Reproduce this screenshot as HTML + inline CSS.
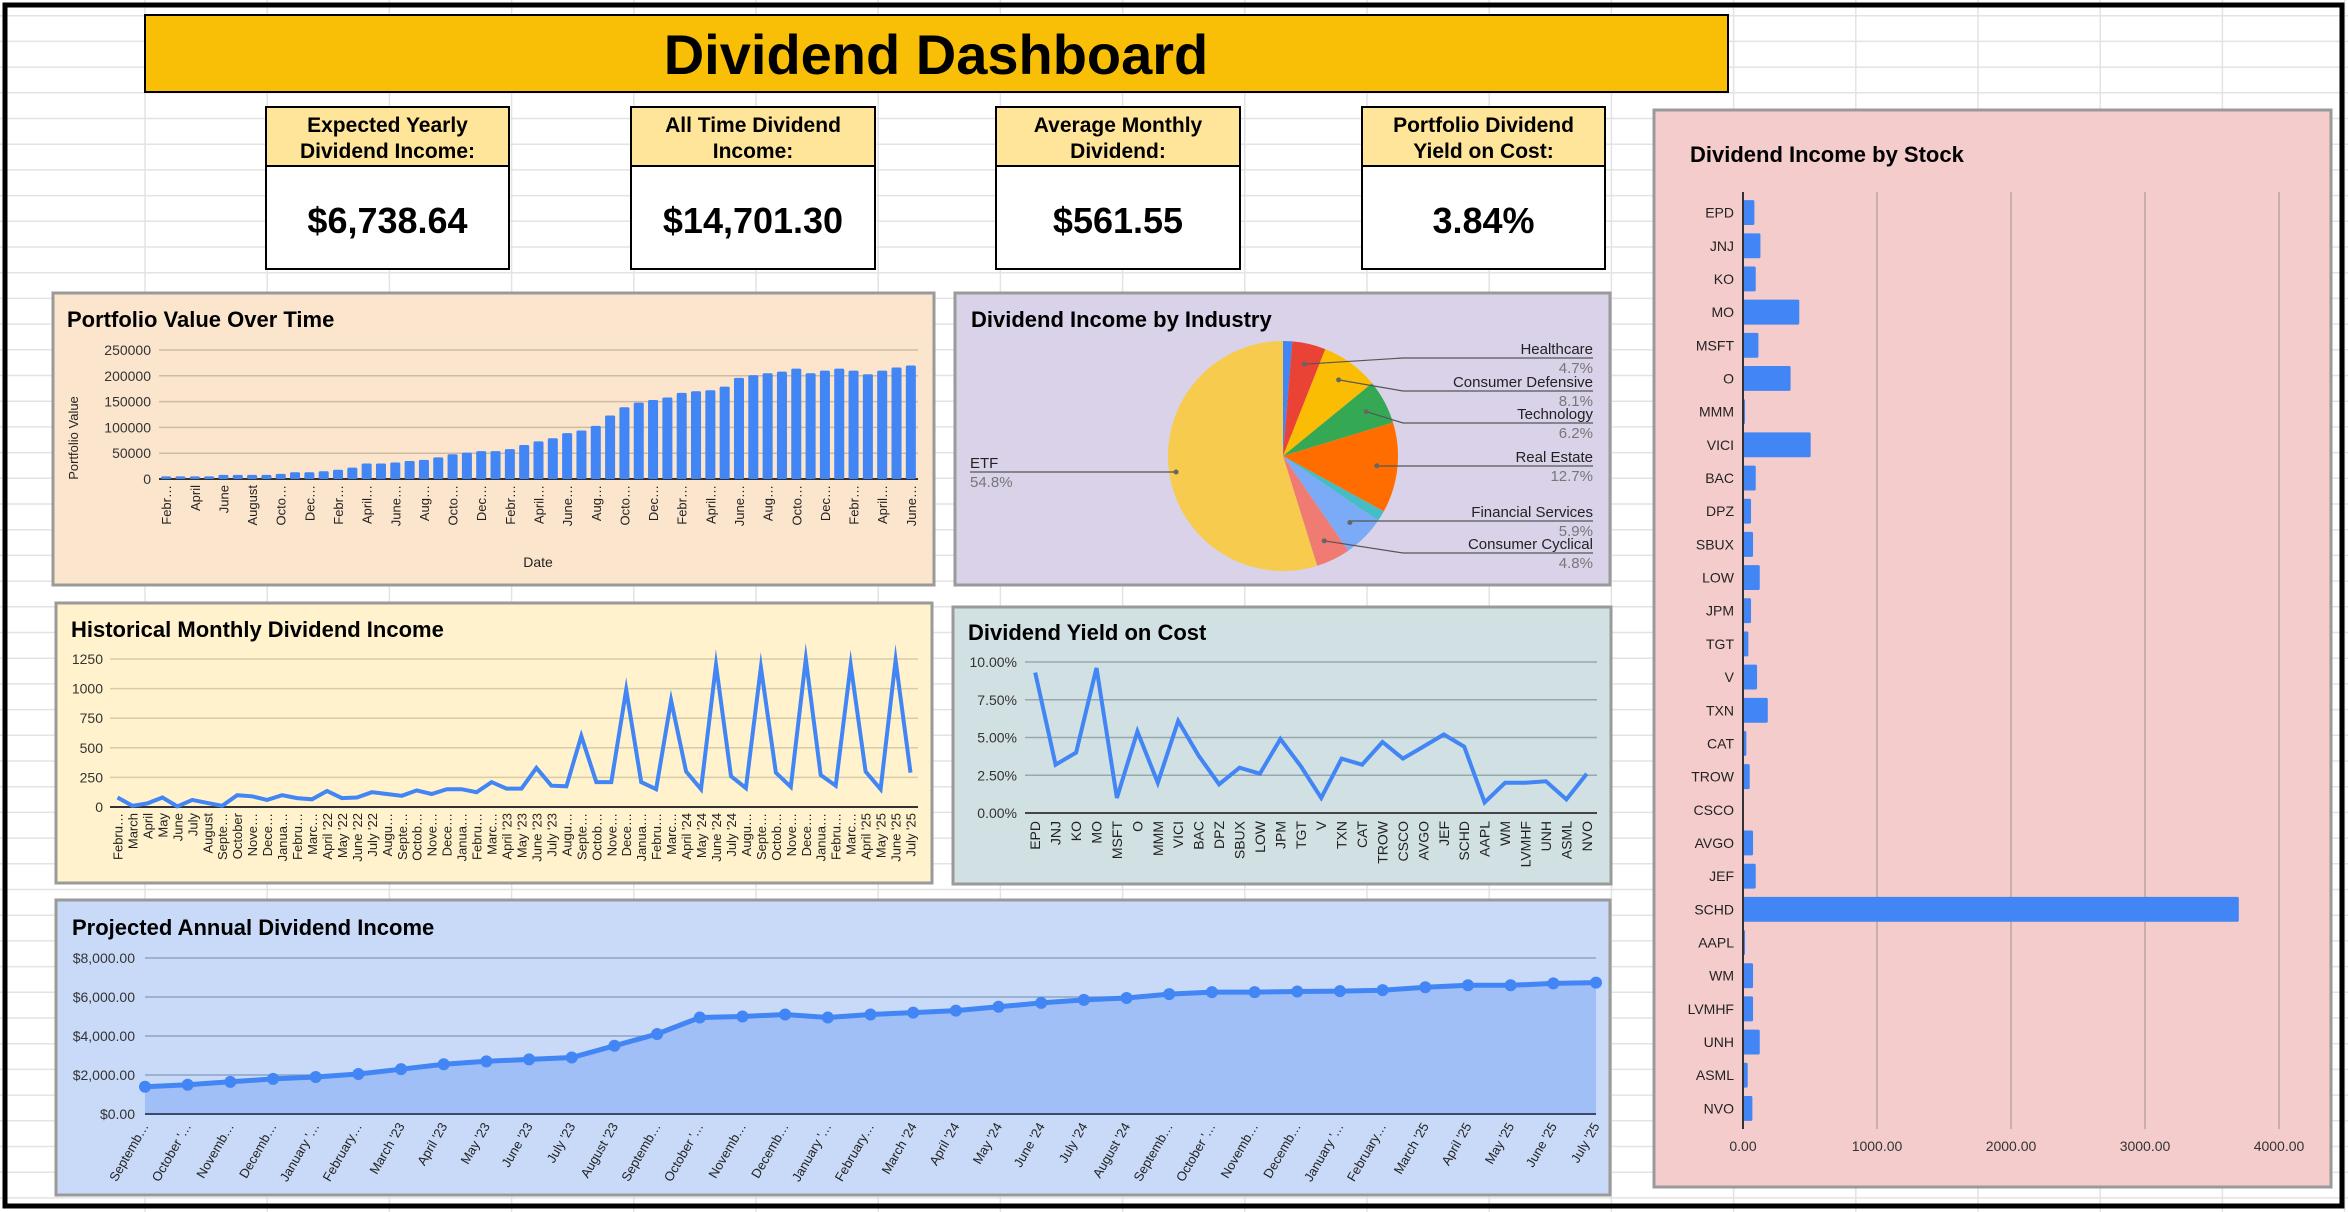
<!DOCTYPE html>
<html><head><meta charset="utf-8"><title>Dividend Dashboard</title>
<style>
html,body{margin:0;padding:0;background:#fff;}
svg{display:block;font-family:"Liberation Sans",Arial,sans-serif;}
.t{font-weight:bold;fill:#000;}
.tick{font-size:14px;fill:#333;}
.xl{font-size:13px;fill:#222;}
</style></head>
<body>
<svg id="root" width="2348" height="1212" viewBox="0 0 2348 1212" xmlns="http://www.w3.org/2000/svg">
<rect x="0" y="0" width="2348" height="1212" fill="#fff"/>
<g id="grid"></g>
<rect x="5" y="5" width="2337" height="1201" fill="none" stroke="#000" stroke-width="5"/>

<rect x="145" y="15" width="1583" height="77" fill="#f9bf06" stroke="#000" stroke-width="2"/>
<text x="936" y="74" text-anchor="middle" class="t" font-size="56">Dividend Dashboard</text>

<g>
<rect x="266" y="107" width="243" height="59" fill="#ffe599" stroke="#000" stroke-width="2"/>
<rect x="266" y="166" width="243" height="103" fill="#fff" stroke="#000" stroke-width="2"/>
<text x="387.5" y="132" text-anchor="middle" class="t" font-size="21">Expected Yearly</text>
<text x="387.5" y="158" text-anchor="middle" class="t" font-size="21">Dividend Income:</text>
<text x="387.5" y="233" text-anchor="middle" class="t" font-size="36">$6,738.64</text>
</g>
<g>
<rect x="631" y="107" width="244" height="59" fill="#ffe599" stroke="#000" stroke-width="2"/>
<rect x="631" y="166" width="244" height="103" fill="#fff" stroke="#000" stroke-width="2"/>
<text x="753" y="132" text-anchor="middle" class="t" font-size="21">All Time Dividend</text>
<text x="753" y="158" text-anchor="middle" class="t" font-size="21">Income:</text>
<text x="753" y="233" text-anchor="middle" class="t" font-size="36">$14,701.30</text>
</g>
<g>
<rect x="996" y="107" width="244" height="59" fill="#ffe599" stroke="#000" stroke-width="2"/>
<rect x="996" y="166" width="244" height="103" fill="#fff" stroke="#000" stroke-width="2"/>
<text x="1118" y="132" text-anchor="middle" class="t" font-size="21">Average Monthly</text>
<text x="1118" y="158" text-anchor="middle" class="t" font-size="21">Dividend:</text>
<text x="1118" y="233" text-anchor="middle" class="t" font-size="36">$561.55</text>
</g>
<g>
<rect x="1362" y="107" width="243" height="59" fill="#ffe599" stroke="#000" stroke-width="2"/>
<rect x="1362" y="166" width="243" height="103" fill="#fff" stroke="#000" stroke-width="2"/>
<text x="1483.5" y="132" text-anchor="middle" class="t" font-size="21">Portfolio Dividend</text>
<text x="1483.5" y="158" text-anchor="middle" class="t" font-size="21">Yield on Cost:</text>
<text x="1483.5" y="233" text-anchor="middle" class="t" font-size="36">3.84%</text>
</g>

<rect x="53" y="293" width="881" height="292" fill="#fce5cd" stroke="#9a9a9a" stroke-width="3"/>
<text x="67" y="327" class="t" font-size="22">Portfolio Value Over Time</text>
<text transform="translate(78,438) rotate(-90)" text-anchor="middle" font-size="13" fill="#222">Portfolio Value</text>
<text x="538" y="567" text-anchor="middle" font-size="14" fill="#222">Date</text>
<g id="pv"></g>

<rect x="56" y="603" width="876" height="280" fill="#fff2cc" stroke="#9a9a9a" stroke-width="3"/>
<text x="71" y="637" class="t" font-size="22">Historical Monthly Dividend Income</text>
<g id="hm"></g>

<rect x="955" y="293" width="655" height="292" fill="#d9d2e9" stroke="#9a9a9a" stroke-width="3"/>
<text x="971" y="327" class="t" font-size="22">Dividend Income by Industry</text>
<g id="pie"></g>

<rect x="953" y="607" width="658" height="277" fill="#d0e0e3" stroke="#9a9a9a" stroke-width="3"/>
<text x="968" y="640" class="t" font-size="22">Dividend Yield on Cost</text>
<g id="yc"></g>

<rect x="56" y="900" width="1554" height="295" fill="#c9daf8" stroke="#9a9a9a" stroke-width="3"/>
<text x="72" y="935" class="t" font-size="22">Projected Annual Dividend Income</text>
<g id="pa"></g>

<rect x="1654" y="110" width="677" height="1077" fill="#f4cccc" stroke="#9a9a9a" stroke-width="3"/>
<text x="1690" y="162" class="t" font-size="22">Dividend Income by Stock</text>
<g id="bs"></g>
</svg>

<script>
// ---------- DATA ----------
const pvValues = [5000,5000,5000,5000,8000,8000,8000,8000,10000,13000,13000,15000,18000,22000,30000,30000,32000,35000,37000,42000,48000,51000,54000,54000,58000,66000,73000,79000,89000,94000,103000,123000,139000,148000,153000,158000,167000,170000,172000,179000,196000,201000,205000,208000,214000,205000,210000,214000,210000,203000,210000,216000,220000];
const pvTickLabels = ["Febr…","April","June","August","Octo…","Dec…","Febr…","April…","June…","Aug…","Octo…","Dec…","Febr…","April…","June…","Aug…","Octo…","Dec…","Febr…","April…","June…","Aug…","Octo…","Dec…","Febr…","April…","June…"];
const pvTicks = [0,50000,100000,150000,200000,250000];

const hmLabels = ["Febru…","March","April","May","June","July","August","Septe…","October","Nove…","Dece…","Janua…","Febru…","Marc…","April '22","May '22","June '22","July '22","Augu…","Septe…","Octob…","Nove…","Dece…","Janua…","Febru…","Marc…","April '23","May '23","June '23","July '23","Augu…","Septe…","Octob…","Nove…","Dece…","Janua…","Febru…","Marc…","April '24","May '24","June '24","July '24","Augu…","Septe…","Octob…","Nove…","Dece…","Janua…","Febru…","Marc…","April '25","May '25","June '25","July '25"];
const hmValues = [80,10,30,80,5,60,35,10,100,90,60,100,75,65,135,75,80,125,110,95,140,110,150,150,125,210,155,155,330,180,175,600,210,210,990,210,150,900,300,150,1200,260,160,1180,290,170,1250,270,180,1200,300,150,1240,290];
const hmTicks = [0,250,500,750,1000,1250];

const pieNames = ["Energy","Healthcare","Consumer Defensive","Technology","Real Estate","Utilities","Financial Services","Consumer Cyclical","ETF"];
const pieValues = [1.3,4.7,8.1,6.2,12.7,1.5,5.9,4.8,54.8];
const pieColors = ["#4285f4","#ea4335","#fbbc04","#34a853","#ff6d01","#46bdc6","#7baaf7","#f07b72","#f7cb4d"];

const ycLabels = ["EPD","JNJ","KO","MO","MSFT","O","MMM","VICI","BAC","DPZ","SBUX","LOW","JPM","TGT","V","TXN","CAT","TROW","CSCO","AVGO","JEF","SCHD","AAPL","WM","LVMHF","UNH","ASML","NVO"];
const ycValues = [9.3,3.2,4.0,9.6,1.0,5.4,2.0,6.1,3.8,1.9,3.0,2.6,4.9,3.1,1.0,3.6,3.2,4.7,3.6,4.4,5.2,4.4,0.7,2.0,2.0,2.1,0.9,2.6];
const ycTicks = [0,2.5,5,7.5,10];

const paLabels = ["Septemb…","October '…","Novemb…","Decemb…","January '…","February…","March '23","April '23","May '23","June '23","July '23","August '23","Septemb…","October '…","Novemb…","Decemb…","January '…","February…","March '24","April '24","May '24","June '24","July '24","August '24","Septemb…","October '…","Novemb…","Decemb…","January '…","February…","March '25","April '25","May '25","June '25","July '25"];
const paValues = [1400,1500,1650,1800,1900,2050,2300,2550,2700,2800,2900,3500,4100,4950,5000,5100,4950,5100,5200,5300,5500,5700,5850,5950,6150,6250,6250,6280,6300,6350,6500,6600,6600,6700,6740];
const paTicks = [0,2000,4000,6000,8000];

const bsLabels = ["EPD","JNJ","KO","MO","MSFT","O","MMM","VICI","BAC","DPZ","SBUX","LOW","JPM","TGT","V","TXN","CAT","TROW","CSCO","AVGO","JEF","SCHD","AAPL","WM","LVMHF","UNH","ASML","NVO"];
const bsValues = [85,130,95,420,115,355,15,505,95,60,75,125,60,40,105,185,25,50,5,75,95,3700,15,75,75,125,35,70];
const bsTicks = [0,1000,2000,3000,4000];

// ---------- HELPERS ----------
const NS='http://www.w3.org/2000/svg';
function mk(parent, tag, attrs, text){
  const e=document.createElementNS(NS,tag);
  for(const k in attrs) e.setAttribute(k,attrs[k]);
  if(text!=null) e.textContent=text;
  parent.appendChild(e); return e;
}
function fmtMoney(v){return '$'+v.toLocaleString('en-US',{minimumFractionDigits:2,maximumFractionDigits:2});}

// ---------- BACKGROUND GRID ----------
(function(){
  const g=document.getElementById('grid');
  for(let x=145;x<2348;x+=122.2){
    const l=mk(g,'line',{x1:x,y1:0,x2:x,y2:1212,stroke:'#e3e3e3','stroke-width':1.5});
    
    
  }
  for(let y=15.7;y<1212;y+=25.7){
    const l=mk(g,'line',{x1:0,y1:y,x2:2348,y2:y,stroke:'#e3e3e3','stroke-width':1.5});
    
    
  }
})();

// ---------- PORTFOLIO VALUE ----------
(function(){
  const g=document.getElementById('pv');
  const L=159,R=918,T=350,B=479,max=250000;
  const band=(R-L)/pvValues.length;
  const xs=i=>L+(i+0.5)*band, ys=v=>B-v/max*(B-T);
  pvTicks.forEach(t=>{
    const gl=mk(g,'line',{x1:L,x2:R,y1:ys(t),y2:ys(t),stroke:t===0?'#333':'#cdbba5','stroke-width':t===0?2:1.5});
    
    
    const tl=mk(g,'text',{x:L-8,y:ys(t)+5,'text-anchor':'end',class:'tick'},String(t));
    
    
  });
  pvValues.forEach((v,i)=>{
    const w=band*0.7;
    const b=mk(g,'rect',{x:xs(i)-w/2,y:ys(v),width:w,height:B-ys(v),fill:'#4285f4',rx:1.5});
    
    
  });
  pvTickLabels.forEach((s,k)=>{
    const x=xs(k*2);
    const tl=mk(g,'text',{transform:`translate(${x+5},${B+6}) rotate(-90)`,'text-anchor':'end',class:'xl'},s);
    
    
  });
})();

// ---------- HISTORICAL MONTHLY ----------
(function(){
  const g=document.getElementById('hm');
  const L=110,R=918,T=659,B=807,max=1250;
  const band=(R-L)/hmValues.length;
  const xs=i=>L+(i+0.5)*band, ys=v=>B-v/max*(B-T);
  hmTicks.forEach(t=>{
    const gl=mk(g,'line',{x1:L,x2:R,y1:ys(t),y2:ys(t),stroke:t===0?'#333':'#d7cca8','stroke-width':t===0?2:1.5});
    
    
    const tl=mk(g,'text',{x:L-7,y:ys(t)+5,'text-anchor':'end',class:'tick'},String(t));
    
    
  });
  const pts=hmValues.map((v,i)=>xs(i).toFixed(1)+','+ys(v).toFixed(1)).join(' ');
  const pl=mk(g,'polyline',{points:pts,fill:'none',stroke:'#4285f4','stroke-width':4,'stroke-linejoin':'miter','stroke-miterlimit':10});
  
  
  hmLabels.forEach((s,i)=>{
    const tl=mk(g,'text',{transform:`translate(${xs(i)+5},${B+6}) rotate(-90)`,'text-anchor':'end',class:'xl'},s);
    
    
  });
})();

// ---------- PIE ----------
(function(){
  const g=document.getElementById('pie');
  const cx=1283,cy=456,r=115;
  const total=pieValues.reduce((a,b)=>a+b,0);
  let a0=-Math.PI/2;
  const mids=[];
  pieValues.forEach((v,i)=>{
    const a1=a0+v/total*Math.PI*2;
    const large=(a1-a0)>Math.PI?1:0;
    const d=`M${cx},${cy} L${cx+r*Math.cos(a0)},${cy+r*Math.sin(a0)} A${r},${r} 0 ${large} 1 ${cx+r*Math.cos(a1)},${cy+r*Math.sin(a1)} Z`;
    const p=mk(g,'path',{d:d,fill:pieColors[i]});
    
    
    mids.push((a0+a1)/2);
    a0=a1;
  });
  const labelY={"Healthcare":358,"Consumer Defensive":391,"Technology":423,"Real Estate":466,"Financial Services":521,"Consumer Cyclical":553};
  pieNames.forEach((n,i)=>{
    const pct=(pieValues[i]/total*100*total/100).toFixed(1)+'%';
    const m=mids[i];
    const dx=cx+r*0.82*Math.cos(m), dy=cy+r*0.82*Math.sin(m);
    if(n==='ETF'){
      const ly=472;
      const ln=mk(g,'polyline',{points:`970,${ly} ${cx-r*0.93},${ly}`,fill:'none',stroke:'#555','stroke-width':1.2});
      
      
      const dt=mk(g,'circle',{cx:cx-r*0.93,cy:ly,r:2.5,fill:'#666'});
      
      
      const t1=mk(g,'text',{x:970,y:ly-4,'font-size':15,fill:'#222'},n);
      
      
      const t2=mk(g,'text',{x:970,y:ly+15,'font-size':15,fill:'#777'},pct);
      
      
      return;
    }
    if(!(n in labelY)) return;
    const ly=labelY[n];
    const elbow=Math.abs(dy-ly)<6?dx:1403;
    const ln=mk(g,'polyline',{points:`1593,${ly} ${elbow},${ly} ${dx},${dy}`,fill:'none',stroke:'#555','stroke-width':1.2});
    
    
    const dt=mk(g,'circle',{cx:dx,cy:dy,r:2.5,fill:'#666'});
    
    
    const t1=mk(g,'text',{x:1593,y:ly-4,'text-anchor':'end','font-size':15,fill:'#222'},n);
    
    
    const t2=mk(g,'text',{x:1593,y:ly+15,'text-anchor':'end','font-size':15,fill:'#777'},pct);
    
    
  });
})();

// ---------- YIELD ON COST ----------
(function(){
  const g=document.getElementById('yc');
  const L=1025,R=1597,T=662,B=813,max=10;
  const band=(R-L)/ycValues.length;
  const xs=i=>L+(i+0.5)*band, ys=v=>B-v/max*(B-T);
  ycTicks.forEach(t=>{
    const gl=mk(g,'line',{x1:L,x2:R,y1:ys(t),y2:ys(t),stroke:t===0?'#444':'#97a8ac','stroke-width':t===0?2:1.5});
    
    
    const tl=mk(g,'text',{x:L-8,y:ys(t)+5,'text-anchor':'end',class:'tick'},t.toFixed(2)+'%');
    
    
  });
  const pts=ycValues.map((v,i)=>xs(i).toFixed(1)+','+ys(v).toFixed(1)).join(' ');
  const pl=mk(g,'polyline',{points:pts,fill:'none',stroke:'#4285f4','stroke-width':4});
  
  
  ycLabels.forEach((s,i)=>{
    const tl=mk(g,'text',{transform:`translate(${xs(i)+5},${B+8}) rotate(-90)`,'text-anchor':'end','font-size':14,fill:'#222'},s);
    
    
  });
})();

// ---------- PROJECTED ANNUAL ----------
(function(){
  const g=document.getElementById('pa');
  const L=145,R=1596,T=958,B=1114,max=8000;
  const step=(R-L)/(paValues.length-1);
  const xs=i=>L+i*step, ys=v=>B-v/max*(B-T);
  paTicks.forEach(t=>{
    const gl=mk(g,'line',{x1:L,x2:R,y1:ys(t),y2:ys(t),stroke:'#8ea2c6','stroke-width':1.5});
    
    
    const tl=mk(g,'text',{x:L-10,y:ys(t)+5,'text-anchor':'end','font-size':14,fill:'#333'},fmtMoney(t));
    
    
  });
  const pts=paValues.map((v,i)=>xs(i).toFixed(1)+','+ys(v).toFixed(1));
  const area=mk(g,'polygon',{points:`${L},${B} `+pts.join(' ')+` ${R},${B}`,fill:'#a0bff6'});
  
  
  const base=mk(g,'line',{x1:L,x2:R,y1:B,y2:B,stroke:'#3a4a6a','stroke-width':2});
  
  
  const pl=mk(g,'polyline',{points:pts.join(' '),fill:'none',stroke:'#4285f4','stroke-width':5});
  
  
  paValues.forEach((v,i)=>{
    const c=mk(g,'circle',{cx:xs(i),cy:ys(v),r:6,fill:'#4285f4'});
    
    
  });
  paLabels.forEach((s,i)=>{
    const tl=mk(g,'text',{transform:`translate(${xs(i)+4},${B+12}) rotate(-60)`,'text-anchor':'end','font-size':13,fill:'#222'},s);
    
    
  });
})();

// ---------- DIVIDEND INCOME BY STOCK ----------
(function(){
  const g=document.getElementById('bs');
  const L=1743,R=2279,T=196,B=1125,max=4000;
  const band=(B-T)/bsValues.length;
  const xs=v=>L+v/max*(R-L), ys=i=>T+(i+0.5)*band;
  bsTicks.forEach(t=>{
    if(t>0){
      const gl=mk(g,'line',{x1:xs(t),x2:xs(t),y1:T-4,y2:B+4,stroke:'#b9a3a3','stroke-width':1.5});
      
      
    }
    const tl=mk(g,'text',{x:xs(t),y:B+26,'text-anchor':'middle','font-size':14,fill:'#333'},t.toFixed(2));
    
    
  });
  bsValues.forEach((v,i)=>{
    const h=band*0.75;
    const b=mk(g,'rect',{x:L,y:ys(i)-h/2,width:Math.max(1,xs(v)-L),height:h,fill:'#4285f4',rx:1.5});
    
    
  });
  bsLabels.forEach((s,i)=>{
    const tl=mk(g,'text',{x:L-9,y:ys(i)+5,'text-anchor':'end','font-size':14,fill:'#222'},s);
    
    
  });
  const ax=mk(g,'line',{x1:L,x2:L,y1:T-4,y2:B+4,stroke:'#333','stroke-width':2});
  
  
})();
</script>
</body></html>
